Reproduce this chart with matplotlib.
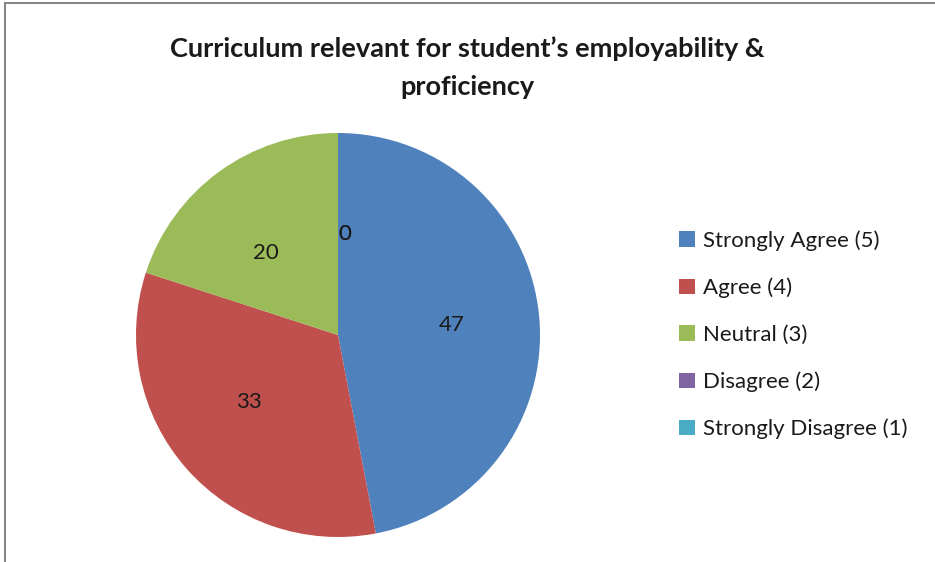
import matplotlib.pyplot as plt
from matplotlib.patches import Rectangle

# survey responses
categories = ['Strongly Agree (5)', 'Agree (4)', 'Neutral (3)', 'Disagree (2)', 'Strongly Disagree (1)']
values = [47, 33, 20, 0, 0]
colors = ['#4F81BD', '#C0504D', '#9BBB59', '#8064A2', '#4BACC6']
title = 'Curriculum relevant for student\u2019s employability &\nproficiency'

plt.rcParams['font.family'] = ['Lato', 'DejaVu Sans']

fig = plt.figure(figsize=(9.35, 5.62), dpi=100)

# chart area border (left and top visible)
fig.patches.append(Rectangle((5 / 935, -0.1), 1.2, 1.1 - 3 / 562, transform=fig.transFigure,
                             fill=False, edgecolor='#868686', linewidth=1.5))

ax = fig.add_axes([136 / 935, 25 / 562, 404 / 935, 404 / 562])
wedges, texts = ax.pie(values, colors=colors, startangle=90, counterclock=False,
                       labels=[str(v) for v in values], labeldistance=0.5,
                       textprops={'fontsize': 16, 'color': '#1a1a1a'})
ax.set_xlim(-1, 1)
ax.set_ylim(-1, 1)
ax.set_aspect('equal')

fig.text(0.5, 0.88, title, ha='center', va='center', fontsize=19.5, fontweight='bold',
         linespacing=1.7, color='#1a1a1a')

leg = fig.legend(wedges, categories, loc='center left', bbox_to_anchor=(0.705, 0.404),
                 frameon=False, fontsize=16, handlelength=0.7, handleheight=0.7,
                 handletextpad=0.35, labelspacing=1.2)
for t in leg.get_texts():
    t.set_color('#1a1a1a')

fig.savefig('out.png', dpi=100)
